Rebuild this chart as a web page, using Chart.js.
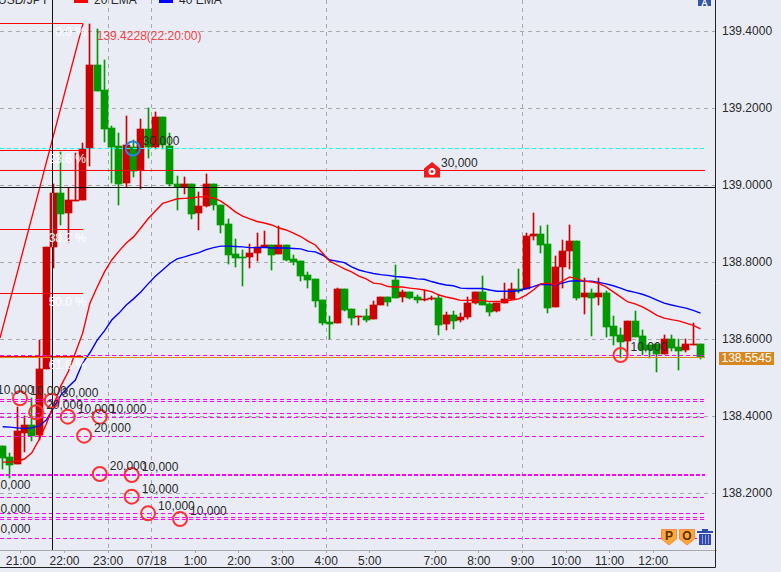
<!DOCTYPE html>
<html>
<head>
<meta charset="utf-8">
<script src="https://cdn.jsdelivr.net/npm/chart.js@4"></script>
<style>
  html, body { margin: 0; padding: 0; background: #e9ecf5; overflow: hidden; }
  canvas { display: block; }
</style>
</head>
<body>
<canvas id="grafico" width="781" height="572"></canvas>
<script>
// 10 minute candles, slot number = position in these arrays
const opens = [138.3229,138.2943,138.2761,138.3566,138.3774,138.3514,138.5229,138.8397,138.9800,138.9281,
  138.9592,138.9618,139.0969,139.3125,139.2475,139.1488,139.1021,139.0060,139.0995,139.0397,
  139.1462,139.0995,139.1774,139.1021,139.0034,138.9956,139.0034,138.9281,138.9462,139.0034,
  138.9488,138.8995,138.8216,138.8138,138.8138,138.8242,138.8397,138.8449,138.8216,138.8449,
  138.8086,138.8034,138.7670,138.7566,138.7021,138.6449,138.6423,138.7307,138.6787,138.6579,
  138.6605,138.6527,138.6891,138.7099,138.7540,138.7099,138.7229,138.7099,138.7021,138.7047,
  138.7073,138.6397,138.6631,138.6501,138.6579,138.6943,138.7229,138.6917,138.6735,138.6943,
  138.7047,138.7307,138.7307,138.8683,138.8735,138.8475,138.6839,138.7878,138.8294,138.8553,
  138.7099,138.7203,138.7099,138.7203,138.6345,138.6112,138.5956,138.6475,138.6086,138.5852,
  138.5878,138.5618,138.6008,138.5800,138.5722,138.5852,138.5878]
const highs = [138.3229,138.3047,138.4242,138.4008,138.4475,138.5982,138.8397,139.0034,139.0865,138.9930,
  139.0839,139.1099,139.4190,139.4060,139.3255,139.1540,139.1358,139.1800,139.1177,139.1722,
  139.2008,139.1904,139.1774,139.1358,139.0242,139.0216,139.0034,138.9826,139.0294,139.0034,
  138.9488,138.9125,138.8605,138.8319,138.8475,138.8761,138.8813,138.8449,138.8943,138.8449,
  138.8190,138.8034,138.7748,138.7566,138.7021,138.6605,138.7332,138.7307,138.6787,138.6605,
  138.6787,138.6995,138.7099,138.7099,138.7930,138.7281,138.7229,138.7151,138.7281,138.7125,
  138.7151,138.6709,138.6735,138.6683,138.7099,138.7229,138.7644,138.6943,138.6943,138.7462,
  138.7462,138.7826,138.8761,138.9281,138.8943,138.8969,138.8164,138.8579,138.8969,138.8553,
  138.7592,138.7307,138.7592,138.7255,138.6605,138.6294,138.6475,138.6735,138.6242,138.5852,
  138.5878,138.6112,138.6112,138.6008,138.6008,138.6423,138.5878]
const lows = [138.2631,138.2397,138.2761,138.3073,138.3358,138.3384,138.5229,138.7852,138.8969,138.8527,
  138.9592,138.9618,139.0501,139.2449,139.1125,139.0060,138.9488,138.9956,139.0216,138.9904,
  139.0709,139.0943,139.0943,138.9982,138.9358,138.9774,138.9125,138.8839,138.9436,138.9358,
  138.8761,138.7956,138.7878,138.7384,138.7852,138.8034,138.8397,138.7800,138.8216,138.8034,
  138.7930,138.7514,138.7332,138.6839,138.6371,138.6008,138.6423,138.6735,138.6371,138.6371,
  138.6449,138.6527,138.6891,138.6865,138.7073,138.6969,138.7047,138.6943,138.6995,138.7021,
  138.6112,138.6242,138.6268,138.6449,138.6527,138.6917,138.6891,138.6605,138.6709,138.6943,
  138.7021,138.7203,138.7307,138.8579,138.8242,138.6683,138.6839,138.7332,138.7826,138.7021,
  138.6657,138.6086,138.6891,138.6060,138.5852,138.5514,138.5566,138.6060,138.5592,138.5514,
  138.5151,138.5618,138.5696,138.5203,138.5670,138.5852,138.5488]
const closes = [138.2917,138.2735,138.3618,138.3774,138.3488,138.5229,138.8397,138.9800,138.9255,138.9618,
  138.9618,139.0943,139.3125,139.2449,139.1462,139.0995,139.0034,139.1047,139.0371,139.1462,
  139.0995,139.1774,139.1047,139.0034,138.9956,139.0034,138.9255,138.9462,139.0034,138.9488,
  138.8969,138.8190,138.8112,138.8112,138.8242,138.8397,138.8449,138.8190,138.8449,138.8060,
  138.8008,138.7644,138.7540,138.6995,138.6423,138.6397,138.7307,138.6761,138.6553,138.6605,
  138.6501,138.6891,138.7099,138.6969,138.7073,138.7229,138.7073,138.7021,138.7047,138.7073,
  138.6371,138.6631,138.6475,138.6579,138.6943,138.7229,138.6891,138.6709,138.6943,138.7047,
  138.7307,138.7255,138.8683,138.8735,138.8449,138.6813,138.7878,138.8294,138.8553,138.7073,
  138.7203,138.7073,138.7203,138.6320,138.6086,138.5930,138.6475,138.6060,138.5722,138.5722,
  138.5618,138.6008,138.5774,138.5696,138.5878,138.5878,138.5540]

const ema20 = [138.281,138.281,138.284,138.289,138.305,138.339,138.380,138.429,138.479,138.515,
  138.565,138.616,138.694,138.736,138.775,138.806,138.829,138.850,138.866,138.889,
  138.913,138.933,138.953,138.959,138.965,138.966,138.967,138.970,138.970,138.967,
  138.959,138.946,138.931,138.920,138.913,138.906,138.902,138.897,138.889,138.884,
  138.876,138.867,138.855,138.845,138.824,138.803,138.793,138.783,138.775,138.764,
  138.757,138.746,138.744,138.737,138.736,138.736,138.733,138.731,138.728,138.724,
  138.715,138.710,138.706,138.701,138.701,138.702,138.701,138.698,138.698,138.699,
  138.702,138.705,138.715,138.728,138.744,138.746,138.741,138.751,138.762,138.757,
  138.751,138.749,138.745,138.736,138.723,138.710,138.697,138.692,138.684,138.674,
  138.662,138.655,138.651,138.648,138.642,138.636,138.627]
const ema40 = [138.373,138.372,138.370,138.368,138.370,138.375,138.390,138.422,138.455,138.476,
  138.494,138.539,138.565,138.598,138.622,138.650,138.668,138.689,138.705,138.723,
  138.744,138.764,138.780,138.797,138.809,138.814,138.820,138.825,138.833,138.838,
  138.842,138.842,138.841,138.840,138.838,138.838,138.839,138.837,138.837,138.837,
  138.836,138.835,138.829,138.827,138.819,138.806,138.803,138.799,138.788,138.780,
  138.775,138.771,138.768,138.766,138.763,138.762,138.760,138.757,138.756,138.750,
  138.745,138.741,138.739,138.733,138.732,138.732,138.732,138.728,138.725,138.725,
  138.725,138.726,138.732,138.737,138.743,138.742,138.741,138.746,138.751,138.752,
  138.751,138.751,138.748,138.744,138.739,138.733,138.726,138.722,138.717,138.710,
  138.702,138.694,138.689,138.685,138.681,138.675,138.668]

const priceTicks = [138.2, 138.4, 138.6, 138.8, 139.0, 139.2, 139.4]
const timeSlots = [2.5, 8.5, 14.5, 20.5, 26.5, 32.5, 38.5, 44.5, 50.5, 59.5, 65.5, 71.5, 77.5, 83.5, 89.5]
const timeLabels = ["21:00", "22:00", "23:00", "07/18", "1:00", "2:00", "3:00", "4:00", "5:00", "7:00", "8:00", "9:00", "10:00", "11:00", "12:00"]
const gridTimes = ["23:00", "07/18", "4:00", "9:00"]

const fibPrices = [139.4203, 139.0904, 138.8852, 138.719, 138.5553]
const fibLabels = ["0.0 %", "23.6 %", "38.2 %", "50.0 %", "61.8 %"]
const fibSwingStart = 138.6034
const pendingLevels = [138.5579, 138.4436, 138.4385, 138.4073, 138.3969, 138.3475, 138.1891, 138.1475, 138.1371, 138.132, 138.0826]
const heavyLevel = 138.2476
const cyanLevel = 139.0956
const positionLevel = 139.0385
const bidLine = 138.5527
const cursorPrice = 138.9943
const cursorSlot = 6.853

const orderSlots = [-2.16, 2.38, 4.6, 6.75, 8.95, 11.2, 13.35, 13.35, 17.75, 17.75, 20, 24.4, 85, -2.6, -2.6, -2.6]
const orderPrices = [138.4475, 138.4468, 138.4104, 138.4405, 138.399, 138.3496, 138.399, 138.2501, 138.2475, 138.1912, 138.1481, 138.1333, 138.5592, 138.2021, 138.1397, 138.0865]
const orderLabels = ["10,000", "10,000", "20,000", "30,000", "10,000", "20,000", "10,000", "20,000", "10,000", "10,000", "10,000", "10,000", "10,000", "10,000", "10,000", "10,000"]
const fillSlot = 17.9
const fillPrice = 139.0956
const fillLabel = "30,000"
const houseSlot = 59.06
const houseLabel = "30,000"
const highLabel = "139.4228(22:20:00)"
const highSlot = 12.94
const highPrice = 139.3868
const lastLabel = "138.5545"
const symbol = "USD/JPY"
const ema20Label = "20 EMA"
const ema40Label = "40 EMA"

const slotMin = -0.37
const slotMax = 98.13
const levelEnd = 96.62
const fibEnd = 11.05
const priceMax = 139.4813
const priceMin = 138.05273

const FONTE = "12px 'Liberation Sans'"
const TEXTO = "#2a2a2a"
const FUNDO = "#e9ecf5"
const VERMELHO = "#cc0000"
const VERDE = "#009900"

function corVela(ctx) {
  const i = ctx.dataIndex
  return closes[i] >= opens[i] ? VERMELHO : VERDE
}

function nivel(preco, inicio, fim, cor, extra) {
  return Object.assign({
    type: "line",
    data: [{ x: inicio, y: preco }, { x: fim, y: preco }],
    borderColor: cor,
    borderWidth: 1,
    pointRadius: 0,
    order: 3
  }, extra || {})
}

const datasets = []

// wicks behind bodies
datasets.push({
  data: highs.map((h, i) => ({ x: i, y: [lows[i], h] })),
  backgroundColor: corVela,
  barThickness: 1,
  grouped: false,
  order: 9
})
datasets.push({
  data: closes.map((c, i) => ({ x: i, y: [opens[i], c] })),
  backgroundColor: corVela,
  barThickness: 7,
  grouped: false,
  order: 8
})

pendingLevels.forEach(p => {
  datasets.push(nivel(p, slotMin, levelEnd, "#ff00ff", { borderDash: [4, 3] }))
})
datasets.push(nivel(heavyLevel, slotMin, levelEnd, "#ff00ff", { borderDash: [4, 2], borderWidth: 2 }))
datasets.push(nivel(cyanLevel, slotMin, levelEnd, "#00ffff", { borderDash: [4, 3] }))
datasets.push(nivel(positionLevel, slotMin, levelEnd, "#ff0000"))
datasets.push(nivel(bidLine, slotMin, levelEnd, "#d9861e"))

fibPrices.forEach(p => {
  datasets.push(nivel(p, slotMin, fibEnd, "#ff0000"))
})
datasets.push({
  type: "line",
  data: [{ x: slotMin, y: fibSwingStart }, { x: fibEnd, y: fibPrices[0] }],
  borderColor: "#ff0000",
  borderWidth: 1.3,
  pointRadius: 0,
  order: 3
})

datasets.push({
  type: "line",
  data: ema20.map((v, i) => ({ x: i, y: v })),
  borderColor: "#ff0000",
  borderWidth: 1.4,
  pointRadius: 0,
  order: 4
})
datasets.push({
  type: "line",
  data: ema40.map((v, i) => ({ x: i, y: v })),
  borderColor: "#0000ff",
  borderWidth: 1.4,
  pointRadius: 0,
  order: 5
})

// cursor
datasets.push(nivel(cursorPrice, slotMin, slotMax, "#111111", { order: 2 }))
datasets.push({
  type: "line",
  data: [{ x: cursorSlot, y: priceMin }, { x: cursorSlot, y: priceMax }],
  borderColor: "#111111",
  borderWidth: 1,
  pointRadius: 0,
  order: 2
})
datasets.push({
  type: "line",
  data: [{ x: cursorSlot, y: opens[7] }, { x: cursorSlot, y: closes[7] }],
  borderColor: "#33dddd",
  borderWidth: 1,
  pointRadius: 0,
  order: 1
})

// order circles
datasets.push({
  type: "line",
  data: orderSlots.map((s, i) => ({ x: s, y: orderPrices[i] })),
  showLine: false,
  pointStyle: "circle",
  pointRadius: 7,
  pointBorderWidth: 2,
  pointBackgroundColor: "transparent",
  pointBorderColor: "#ff3333",
  order: 0
})
datasets.push({
  type: "line",
  data: [{ x: fillSlot, y: fillPrice }],
  showLine: false,
  pointStyle: "circle",
  pointRadius: 7,
  pointBorderWidth: 2,
  pointBackgroundColor: "transparent",
  pointBorderColor: "#2288dd",
  order: 0
})

function texto(ctx, t, x, y, cor, alinhamento) {
  ctx.fillStyle = cor
  ctx.font = FONTE
  ctx.textAlign = alinhamento || "left"
  ctx.textBaseline = "middle"
  ctx.fillText(t, x, y)
}

function desenhaEscudo(ctx, x, letra) {
  ctx.beginPath()
  ctx.moveTo(x, 529.5)
  ctx.lineTo(x + 15, 529.5)
  ctx.lineTo(x + 15, 539)
  ctx.lineTo(x + 7.5, 545)
  ctx.lineTo(x, 539)
  ctx.closePath()
  ctx.fillStyle = "#ffa935"
  ctx.fill()
  ctx.strokeStyle = "#f58a4a"
  ctx.lineWidth = 1
  ctx.stroke()
  ctx.fillStyle = "#5a2a00"
  ctx.font = "bold 12px 'Liberation Sans'"
  ctx.textAlign = "center"
  ctx.textBaseline = "middle"
  ctx.fillText(letra, x + 7.5, 536.5)
}

function desenhaLixeira(ctx) {
  ctx.fillStyle = "#2f4aa8"
  ctx.fillRect(697, 531, 16, 2)
  ctx.fillRect(702, 529, 6, 2)
  ctx.fillRect(699, 534, 12, 11)
  ctx.fillStyle = "#8fa0dd"
  ctx.fillRect(702, 535, 1, 9)
  ctx.fillRect(705, 535, 1, 9)
  ctx.fillRect(708, 535, 1, 9)
}

const plugins = [{
  id: "fundo",
  beforeDraw(chart) {
    const ctx = chart.ctx
    ctx.fillStyle = FUNDO
    ctx.fillRect(0, 0, chart.width, chart.height)
  },
  // keep candle bars on whole pixels
  afterDatasetsUpdate(chart) {
    chart.data.datasets.forEach((d, n) => {
      const meta = chart.getDatasetMeta(n)
      if (meta.type === "bar") meta.data.forEach(el => { el.x = Math.floor(el.x) + 0.5 })
    })
  },
  afterDatasetsDraw(chart) {
    const ctx = chart.ctx
    const xs = chart.scales.x
    const ys = chart.scales.y
    ctx.save()

    orderSlots.forEach((s, i) => {
      texto(ctx, orderLabels[i], xs.getPixelForValue(s) + 10, ys.getPixelForValue(orderPrices[i]) - 7, TEXTO)
    })
    texto(ctx, fillLabel, xs.getPixelForValue(fillSlot) + 10, ys.getPixelForValue(fillPrice) - 7, TEXTO)
    texto(ctx, highLabel, xs.getPixelForValue(highSlot), ys.getPixelForValue(highPrice), "#f04545")

    fibPrices.forEach((p, i) => {
      texto(ctx, fibLabels[i], xs.getPixelForValue(fibEnd) + 3, ys.getPixelForValue(p) + 9, "#ffffff", "right")
    })

    // position marker on the red line
    const hx = xs.getPixelForValue(houseSlot)
    const hy = ys.getPixelForValue(positionLevel)
    ctx.beginPath()
    ctx.moveTo(hx, hy - 8.5)
    ctx.lineTo(hx + 8, hy - 2)
    ctx.lineTo(hx + 8, hy + 7)
    ctx.lineTo(hx - 8, hy + 7)
    ctx.lineTo(hx - 8, hy - 2)
    ctx.closePath()
    ctx.fillStyle = "#ee1c1c"
    ctx.fill()
    ctx.beginPath()
    ctx.arc(hx, hy + 1, 2.5, 0, Math.PI * 2)
    ctx.strokeStyle = "#ffffff"
    ctx.lineWidth = 2
    ctx.stroke()
    texto(ctx, houseLabel, hx + 9, hy - 7, TEXTO)

    ctx.restore()
  },
  afterDraw(chart) {
    const ctx = chart.ctx
    const ys = chart.scales.y
    ctx.save()

    // frame
    ctx.strokeStyle = "#222222"
    ctx.lineWidth = 1
    ctx.beginPath()
    ctx.moveTo(715.5, 0)
    ctx.lineTo(715.5, 567.5)
    ctx.lineTo(0, 567.5)
    ctx.stroke()

    // last price box
    const py = Math.round(ys.getPixelForValue(bidLine))
    ctx.fillStyle = "#d9861e"
    ctx.fillRect(719, py - 6, 55, 13)
    texto(ctx, lastLabel, 721.5, py + 0.5, "#ffffff")

    // legend, cut by the top of the window
    texto(ctx, symbol, -2, 1, TEXTO)
    ctx.fillStyle = "#ff0000"
    ctx.fillRect(74, 0, 14, 3)
    texto(ctx, ema20Label, 94, 1, TEXTO)
    ctx.fillStyle = "#0000ff"
    ctx.fillRect(159, 0, 14, 3)
    texto(ctx, ema40Label, 179, 1, TEXTO)

    desenhaEscudo(ctx, 661.5, "P")
    desenhaEscudo(ctx, 679.5, "O")
    desenhaLixeira(ctx)

    // toolbar icon top right
    ctx.fillStyle = "#3355aa"
    ctx.fillRect(698, 0, 13, 6)
    ctx.fillStyle = "#ffffff"
    ctx.font = "bold 9px 'Liberation Sans'"
    ctx.textAlign = "center"
    ctx.textBaseline = "alphabetic"
    ctx.fillText("A", 704.5, 6)

    ctx.restore()
  }
}]

const canvas = document.getElementById("grafico")
new Chart(canvas.getContext("2d", { alpha: false }), {
  type: "bar",
  data: { datasets: datasets },
  plugins: plugins,
  options: {
    responsive: false,
    animation: false,
    events: [],
    layout: { padding: 0, autoPadding: false },
    plugins: { legend: { display: false }, tooltip: { enabled: false } },
    scales: {
      x: {
        type: "linear",
        offset: false,
        min: slotMin,
        max: slotMax,
        afterBuildTicks(scale) {
          scale.ticks = timeSlots.map(v => ({ value: v }))
        },
        afterFit(scale) {
          scale.height = 22
          scale.paddingLeft = 0
          scale.paddingRight = 0
        },
        ticks: {
          autoSkip: false,
          maxRotation: 0,
          padding: 1,
          color: TEXTO,
          font: { family: "'Liberation Sans'", size: 12 },
          callback: v => timeLabels[timeSlots.indexOf(v)]
        },
        grid: {
          offset: false,
          color: c => (gridTimes.includes(c.tick && c.tick.label) ? "#a8a8a8" : "transparent"),
          tickColor: "#a8a8a8",
          tickLength: 3,
          tickBorderDash: [],
          lineWidth: 1
        },
        border: { display: true, color: "#a8a8a8", dash: [4, 4] }
      },
      y: {
        type: "linear",
        position: "right",
        min: priceMin,
        max: priceMax,
        afterBuildTicks(scale) {
          scale.ticks = priceTicks.map(v => ({ value: v }))
        },
        afterFit(scale) {
          scale.width = 65
          scale.paddingTop = 0
          scale.paddingBottom = 0
        },
        ticks: {
          padding: 6,
          color: TEXTO,
          font: { family: "'Liberation Sans'", size: 12 },
          callback: v => v.toFixed(4)
        },
        grid: {
          color: "#a8a8a8",
          drawTicks: false,
          lineWidth: 1
        },
        border: { display: false, dash: [4, 4] }
      }
    }
  }
})
</script>
</body>
</html>
